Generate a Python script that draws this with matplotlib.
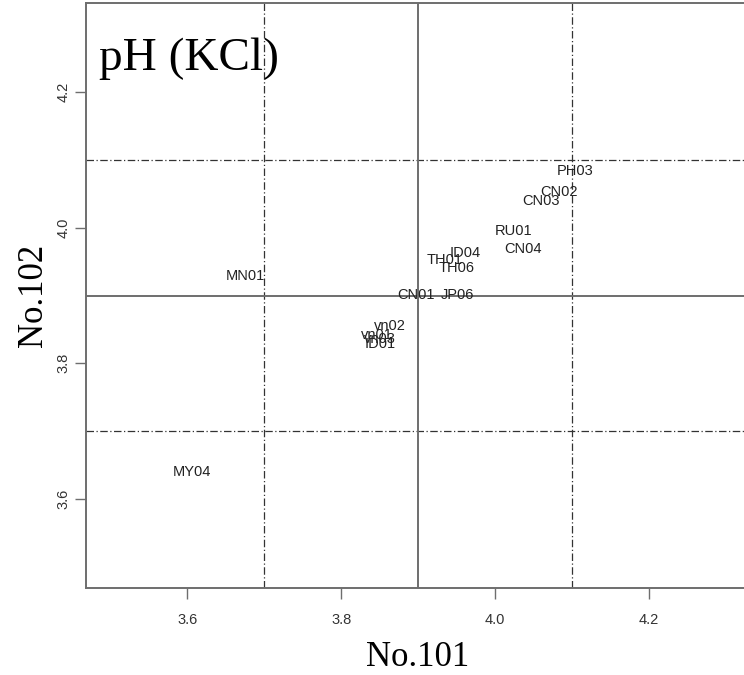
import matplotlib.pyplot as plt

names = ['PH03', 'CN02', 'CN03', 'RU01', 'CN04', 'ID04', 'TH01', 'TH06',
         'CN01', 'JP06', 'MN01', 'MY04', 'vn02', 'vn01', 'vn03', 'ID01']
no101 = [4.104, 4.084, 4.060, 4.024, 4.036, 3.961, 3.935, 3.950,
         3.897, 3.951, 3.675, 3.606, 3.864, 3.846, 3.851, 3.851]
no102 = [4.084, 4.053, 4.040, 3.995, 3.969, 3.963, 3.952, 3.941,
         3.901, 3.901, 3.929, 3.639, 3.855, 3.842, 3.836, 3.828]
xticks = [3.6, 3.8, 4.0, 4.2]
yticks = [3.6, 3.8, 4.0, 4.2]

gray = '#6e6e6e'
fig = plt.figure(figsize=(7.44, 6.75), dpi=100)
ax = fig.add_axes([86/744, 87/675, 664/744, 585/675])
ax.set_xlim(3.468, 4.332)
ax.set_ylim(3.468, 4.332)

for v in [3.7, 4.1]:
    ax.axvline(v, color='#333333', lw=0.9, ls=(0, (6, 2, 1, 2)))
    ax.axhline(v, color='#333333', lw=0.9, ls=(0, (6, 2, 1, 2)))
ax.axvline(3.9, color=gray, lw=1.4)
ax.axhline(3.9, color=gray, lw=1.4)

for n, x, y in zip(names, no101, no102):
    ax.text(x, y, n, ha='center', va='center', fontsize=10.5,
            family='Liberation Sans', color='#222222')

ax.text(0.02, 0.905, 'pH (KCl)', transform=ax.transAxes, fontsize=34,
        family='Liberation Serif', va='center', ha='left')

ax.set_xticks(xticks)
ax.set_yticks(yticks)
ax.set_xticklabels(['%.1f' % t for t in xticks], family='Liberation Sans', fontsize=10.5, color='#333333')
ax.set_yticklabels(['%.1f' % t for t in yticks], family='Liberation Sans', fontsize=10.5,
                   rotation=90, va='center', color='#333333')
ax.tick_params(length=8, width=1, color=gray)
ax.tick_params(axis='x', pad=10)
ax.tick_params(axis='y', pad=3)
for s in ax.spines.values():
    s.set_color(gray)
    s.set_linewidth(1.4)

ax.set_xlabel('No.101', family='Liberation Serif', fontsize=25, labelpad=10)
ax.set_ylabel('No.102', family='Liberation Serif', fontsize=25, labelpad=5)

fig.savefig('out.png', dpi=100)
